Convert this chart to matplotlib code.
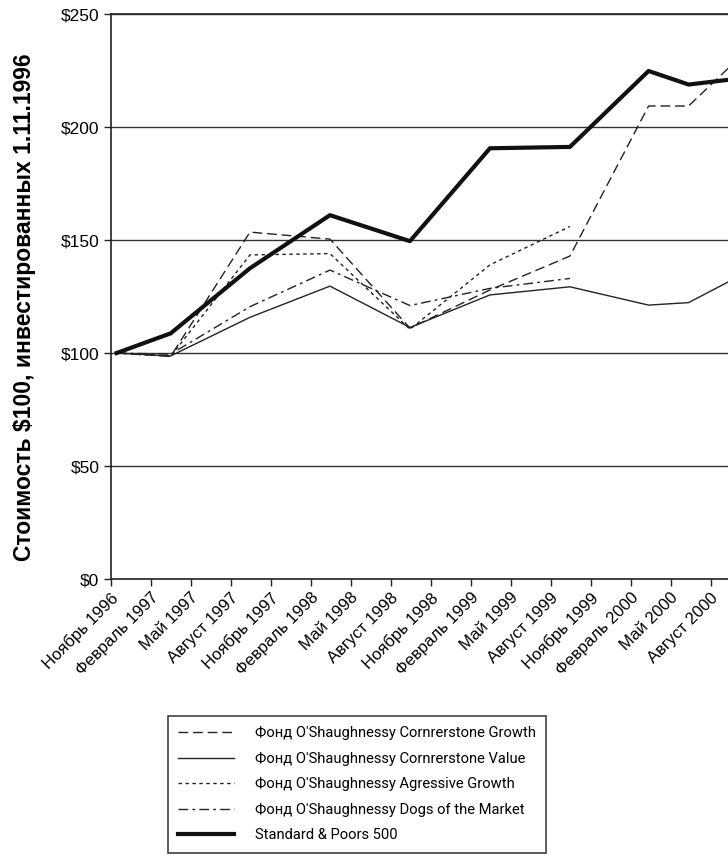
import matplotlib
matplotlib.use('Agg')
from matplotlib import pyplot as plt

# months since 1 Nov 1996
months = [0.45, 4.5, 10.45, 16.45, 22.45, 28.45, 34.45, 40.35, 43.35, 46.5]
sp500 = [100, 108.7, 137.5, 161, 149.5, 190.6, 191.2, 224.8, 218.8, 221]
growth = [100, 98.5, 153.5, 150.4, 111, 127.9, 142.9, 209.3, 209.3, 227]
value = [100, 98.7, 115.8, 129.6, 111.3, 125.7, 129.3, 121.2, 122.3, 132]
agressive = [100, 98.5, 143.4, 144, 110.5, 139, 156]
dogs = [100, 99.5, 120.5, 136.7, 121, 128.6, 133]

tick_months = list(range(0, 49, 3))
tick_labels = ['Ноябрь 1996', 'Февраль 1997', 'Май 1997', 'Август 1997',
               'Ноябрь 1997', 'Февраль 1998', 'Май 1998', 'Август 1998',
               'Ноябрь 1998', 'Февраль 1999', 'Май 1999', 'Август 1999',
               'Ноябрь 1999', 'Февраль 2000', 'Май 2000', 'Август 2000', '']

names = ["Фонд O'Shaughnessy Cornrerstone Growth",
         "Фонд O'Shaughnessy Cornrerstone Value",
         "Фонд O'Shaughnessy Agressive Growth",
         "Фонд O'Shaughnessy Dogs of the Market",
         "Standard & Poors 500"]

tickfont = ['Liberation Sans', 'DejaVu Sans']

fig = plt.figure(figsize=(7.28, 8.66), dpi=100)
ax = fig.add_axes([0.152, 0.3314, 0.879, 0.6524])

ax.plot(months, growth, color='#222222', lw=1, dashes=(7, 3.5), label=names[0])
ax.plot(months, value, color='#222222', lw=1, label=names[1])
ax.plot(months[:len(agressive)], agressive, color='#222222', lw=1, dashes=(2.5, 2.5), label=names[2])
ax.plot(months[:len(dogs)], dogs, color='#222222', lw=1, dashes=(7, 3, 2, 3), label=names[3])
ax.plot(months, sp500, color='#111111', lw=3, label=names[4])

ax.set_xlim(0, 48)
ax.set_ylim(0, 250)
ax.set_yticks([0, 50, 100, 150, 200, 250])
ax.set_yticklabels(['$0', '$50', '$100', '$150', '$200', '$250'], family=tickfont, fontsize=12.5)
ax.set_xticks(tick_months)
ax.set_xticklabels(tick_labels, rotation=45, ha='right', rotation_mode='anchor',
                   family=tickfont, fontsize=12)
ax.tick_params(axis='both', direction='out', length=5, width=1, color='#222222', pad=3)
ax.grid(axis='y', color='#333333', lw=1)
ax.set_axisbelow(True)
for s in ax.spines.values():
    s.set_color('#222222')
    s.set_linewidth(1.2)

ax.set_ylabel('Стоимость $100, инвестированных 1.11.1996',
              family=['Liberation Sans', 'DejaVu Sans'],
              fontweight='bold', fontsize=16.5)
ax.yaxis.set_label_coords(-0.117, 0.481)

leg = fig.legend(loc='upper left', bbox_to_anchor=(0.231, 0.1732), borderaxespad=0,
                 frameon=True, fancybox=False, edgecolor='#111111', handlelength=3.8,
                 handletextpad=1.4, labelspacing=0.78, borderpad=0.7,
                 prop={'family': ['Roboto', 'DejaVu Sans'], 'size': 10.6})
leg.get_frame().set_linewidth(1.2)

fig.savefig('out.png', dpi=100)
